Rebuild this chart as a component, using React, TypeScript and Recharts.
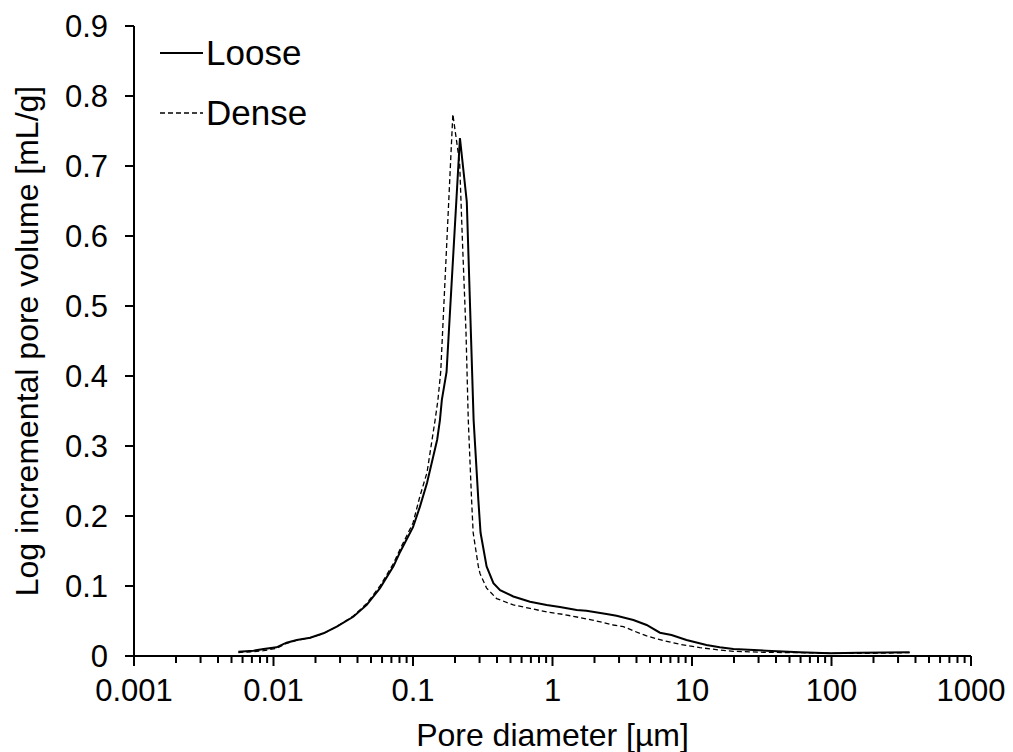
import React from "react";
import { LineChart, Line, XAxis, YAxis } from "recharts";

const looseX = [0.0056, 0.0072, 0.0085, 0.0105, 0.0124, 0.0147, 0.0183, 0.0228, 0.0284, 0.0373, 0.0466, 0.058, 0.0724, 0.081, 0.1, 0.112, 0.126, 0.149, 0.156, 0.161, 0.174, 0.217, 0.243, 0.272, 0.294, 0.305, 0.337, 0.377, 0.421, 0.524, 0.69, 0.908, 1.13, 1.49, 1.75, 2.44, 2.88, 3.8, 4.73, 5.89, 7.13, 9.13, 12.7, 15.8, 19.8, 34, 59, 97.5, 159, 363];
const looseY = [0.0062, 0.0076, 0.010, 0.0124, 0.019, 0.0229, 0.0262, 0.0324, 0.042, 0.056, 0.073, 0.097, 0.128, 0.149, 0.184, 0.213, 0.247, 0.309, 0.337, 0.366, 0.406, 0.740, 0.649, 0.337, 0.223, 0.176, 0.128, 0.104, 0.094, 0.085, 0.0776, 0.073, 0.070, 0.0657, 0.0648, 0.060, 0.0576, 0.0514, 0.0443, 0.0333, 0.030, 0.0229, 0.0157, 0.0124, 0.010, 0.0076, 0.0052, 0.0038, 0.0048, 0.0052];

const denseX = [0.0056, 0.0072, 0.0085, 0.0105, 0.0124, 0.0147, 0.0183, 0.0228, 0.0284, 0.0373, 0.0466, 0.058, 0.0724, 0.081, 0.1, 0.112, 0.126, 0.144, 0.151, 0.158, 0.193, 0.216, 0.226, 0.240, 0.249, 0.263, 0.270, 0.294, 0.302, 0.337, 0.398, 0.524, 0.69, 0.908, 1.19, 1.56, 2.07, 2.73, 3.22, 3.8, 4.73, 6.22, 8.2, 11.4, 15.8, 19.8, 34, 59, 107, 185, 363];
const denseY = [0.005, 0.0062, 0.0076, 0.011, 0.018, 0.0225, 0.026, 0.032, 0.042, 0.057, 0.075, 0.1, 0.132, 0.153, 0.19, 0.228, 0.262, 0.337, 0.366, 0.406, 0.774, 0.704, 0.594, 0.461, 0.337, 0.223, 0.176, 0.128, 0.118, 0.097, 0.082, 0.073, 0.068, 0.063, 0.0595, 0.055, 0.050, 0.0443, 0.042, 0.036, 0.0286, 0.022, 0.0167, 0.0119, 0.0086, 0.0067, 0.0052, 0.0048, 0.0038, 0.0038, 0.0048];

const xMajorTicks = [0.001, 0.01, 0.1, 1, 10, 100, 1000];
const yTicks = [0, 0.1, 0.2, 0.3, 0.4, 0.5, 0.6, 0.7, 0.8, 0.9];
const seriesNames = ["Loose", "Dense"];

const FONT = "'Liberation Sans', Arial, sans-serif";
const TICK_FS = 31;
const TITLE_FS = 32;

const looseData = looseX.map((x, i) => ({ x, y: looseY[i] }));
const denseData = denseX.map((x, i) => ({ x, y: denseY[i] }));

const xAllTicks: number[] = [];
for (let e = -3; e <= 3; e++) {
  const base = Math.pow(10, e);
  xAllTicks.push(Number(base.toPrecision(6)));
  if (e < 3) {
    for (let k = 2; k <= 9; k++) xAllTicks.push(Number((k * base).toPrecision(6)));
  }
}

const isMajor = (v: number) => xMajorTicks.some((m) => Math.abs(m - v) / m < 1e-6);

const XTick = (props: any) => {
  const { x, y, payload } = props;
  const v = payload.value;
  const major = isMajor(v);
  return (
    <g>
      <line x1={x} x2={x} y1={y} y2={y + (major ? 10 : 7)} stroke="#000" strokeWidth={2} />
      {major && (
        <text x={x} y={y + 45} textAnchor="middle" fontSize={TICK_FS} fontFamily={FONT} fill="#000">
          {String(v)}
        </text>
      )}
    </g>
  );
};

const LegendBox = () => (
  <div style={{ position: "absolute", left: 160, top: 23, fontFamily: FONT }}>
    {seriesNames.map((name, i) => (
      <div key={name} style={{ display: "flex", alignItems: "center", height: 60 }}>
        <svg width={46} height={10}>
          <line
            x1={0}
            x2={43}
            y1={5}
            y2={5}
            stroke="#000"
            strokeWidth={i === 0 ? 2 : 1.3}
            strokeDasharray={i === 0 ? undefined : "5 3"}
          />
        </svg>
        <span style={{ fontSize: 35, color: "#000", lineHeight: "40px" }}>{name}</span>
      </div>
    ))}
  </div>
);

export default function App() {
  return (
    <div style={{ position: "absolute", left: 0, top: 0, width: 1013, height: 752, background: "#fff" }}>
      <LineChart width={1013} height={752} margin={{ top: 26, right: 42, bottom: 0, left: 0 }}>
        <XAxis
          dataKey="x"
          type="number"
          scale="log"
          domain={[0.001, 1000]}
          ticks={xAllTicks}
          allowDataOverflow
          interval={0}
          height={96}
          tickSize={0}
          tickMargin={0}
          tickLine={false}
          axisLine={{ stroke: "#000", strokeWidth: 2 }}
          tick={<XTick />}
          label={{
            value: "Pore diameter [µm]",
            position: "insideBottom",
            offset: 6,
            fontSize: TITLE_FS,
            fontFamily: FONT,
            fill: "#000",
          }}
        />
        <YAxis
          type="number"
          domain={[0, 0.9]}
          ticks={yTicks}
          width={134}
          tickSize={9}
          tickMargin={17}
          axisLine={{ stroke: "#000", strokeWidth: 2 }}
          tickLine={{ stroke: "#000", strokeWidth: 2 }}
          tick={{ fontSize: TICK_FS, fontFamily: FONT, fill: "#000" }}
          label={{
            content: (p: any) => {
              const vb = p.viewBox || {};
              const cx = 27;
              const cy = (vb.y ?? 26) + (vb.height ?? 630) / 2;
              return (
                <text
                  x={cx}
                  y={cy}
                  transform={`rotate(-90, ${cx}, ${cy})`}
                  textAnchor="middle"
                  dominantBaseline="central"
                  fontSize={TITLE_FS}
                  fontFamily={FONT}
                  fill="#000"
                >
                  Log incremental pore volume [mL/g]
                </text>
              );
            },
          }}
        />
        <Line
          name="Loose"
          data={looseData}
          dataKey="y"
          type="linear"
          dot={false}
          stroke="#000"
          strokeWidth={2}
          isAnimationActive={false}
        />
        <Line
          name="Dense"
          data={denseData}
          dataKey="y"
          type="linear"
          dot={false}
          stroke="#000"
          strokeWidth={1.3}
          strokeDasharray="5 3"
          isAnimationActive={false}
        />
      </LineChart>
      <LegendBox />
    </div>
  );
}
